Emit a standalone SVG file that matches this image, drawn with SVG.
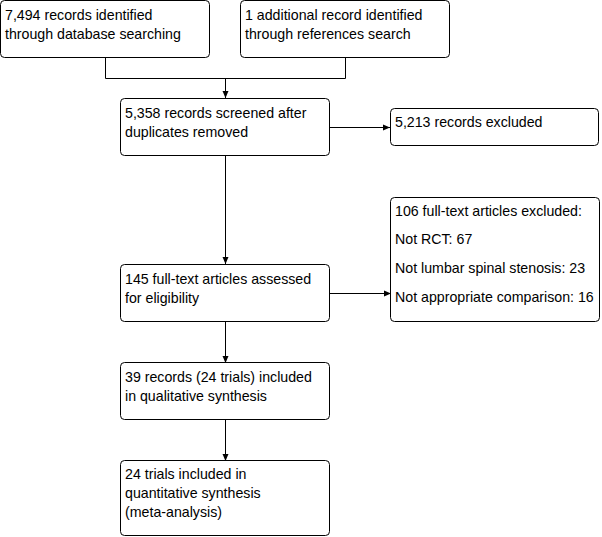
<svg xmlns="http://www.w3.org/2000/svg" width="602" height="537" viewBox="0 0 602 537">
<style>
.box{fill:#fff;stroke:#000;stroke-width:1}
.t{font-family:"Liberation Sans",Arial,sans-serif;font-size:14.2px;fill:#000}
.c{fill:none;stroke:#000;stroke-width:1}
</style>
<defs>
<marker id="ah" markerWidth="8" markerHeight="8" refX="7" refY="4" orient="auto" markerUnits="userSpaceOnUse">
<path d="M0,1 L7,4 L0,7 Z" fill="#000"/>
</marker>
</defs>
<rect width="602" height="537" fill="#fff"/>
<g id="connectors">
<path class="c" d="M105.5,57 V78.5 H345.5 V57"/>
<path class="c" d="M225.5,78.5 V98" marker-end="url(#ah)"/>
<path class="c" d="M329,127.5 H390" marker-end="url(#ah)"/>
<path class="c" d="M225.5,155 V264" marker-end="url(#ah)"/>
<path class="c" d="M329,293.5 H391" marker-end="url(#ah)"/>
<path class="c" d="M225.5,322 V363" marker-end="url(#ah)"/>
<path class="c" d="M225.5,419 V461" marker-end="url(#ah)"/>
</g>
<g id="n1"><rect class="box" x="0.5" y="0.5" width="209" height="57" rx="4"/>
<text class="t" x="5" y="20">7,494 records identified</text><text class="t" x="5" y="39">through database searching</text></g>
<g id="n2"><rect class="box" x="240.5" y="0.5" width="209" height="57" rx="4"/>
<text class="t" x="245" y="20">1 additional record identified</text><text class="t" x="245" y="39">through references search</text></g>
<g id="n3"><rect class="box" x="120.5" y="98.5" width="209" height="57" rx="4"/>
<text class="t" x="125" y="118">5,358 records screened after</text><text class="t" x="125" y="137">duplicates removed</text></g>
<g id="n4"><rect class="box" x="390.5" y="108.5" width="208" height="37" rx="4"/>
<text class="t" x="395" y="127">5,213 records excluded</text></g>
<g id="n5"><rect class="box" x="390.5" y="197.5" width="209" height="124" rx="4"/>
<text class="t" x="395" y="216">106 full-text articles excluded:</text>
<text class="t" x="395" y="244">Not RCT: 67</text>
<text class="t" x="395" y="273">Not lumbar spinal stenosis: 23</text>
<text class="t" x="395" y="302">Not appropriate comparison: 16</text></g>
<g id="n6"><rect class="box" x="120.5" y="264.5" width="209" height="57" rx="4"/>
<text class="t" x="125" y="284">145 full-text articles assessed</text><text class="t" x="125" y="303">for eligibility</text></g>
<g id="n7"><rect class="box" x="120.5" y="362.5" width="209" height="57" rx="4"/>
<text class="t" x="125" y="382">39 records (24 trials) included</text><text class="t" x="125" y="401">in qualitative synthesis</text></g>
<g id="n8"><rect class="box" x="120.5" y="460.5" width="209" height="75" rx="4"/>
<text class="t" x="125" y="479">24 trials included in</text><text class="t" x="125" y="498">quantitative synthesis</text><text class="t" x="125" y="517">(meta-analysis)</text></g>
</svg>
